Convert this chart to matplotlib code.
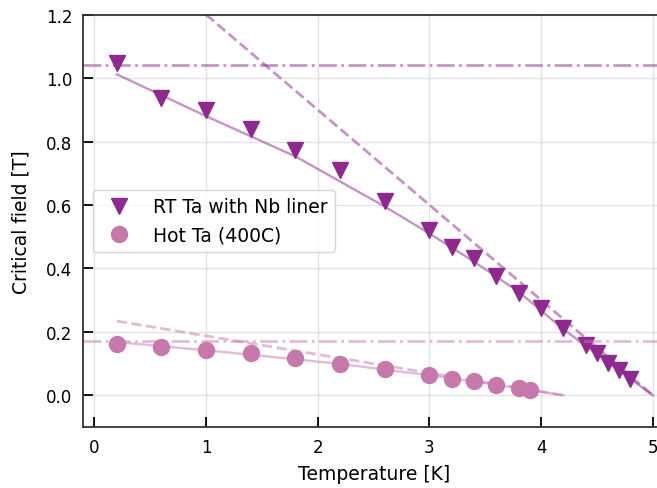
import matplotlib as mpl
mpl.use('Agg')
import matplotlib.pyplot as plt
import numpy as np

# measured critical field, RT Ta with Nb liner
T_rt = [0.2, 0.6, 1.0, 1.4, 1.8, 2.2, 2.6, 3.0, 3.2, 3.4,
        3.6, 3.8, 4.0, 4.2, 4.4, 4.5, 4.6, 4.7, 4.8]
Hc_rt = [1.047, 0.937, 0.900, 0.840, 0.772, 0.710, 0.613, 0.521, 0.466, 0.432,
         0.376, 0.321, 0.274, 0.213, 0.158, 0.132, 0.103, 0.079, 0.051]

# measured critical field, hot Ta (400C)
T_hot = [0.2, 0.6, 1.0, 1.4, 1.8, 2.2, 2.6, 3.0, 3.2, 3.4, 3.6, 3.8, 3.9]
Hc_hot = [0.161, 0.152, 0.144, 0.132, 0.117, 0.100, 0.084, 0.064, 0.052, 0.044,
          0.034, 0.024, 0.018]

# fitted curves
T_fit_rt = [0.2, 1.0, 1.8, 2.6, 3.0, 3.4, 3.8, 4.2, 5.0]
Hc_fit_rt = [1.012, 0.880, 0.753, 0.595, 0.510, 0.421, 0.326, 0.208, 0.0]
T_fit_hot = [0.2, 1.2, 2.2, 3.0, 3.6, 4.2]
Hc_fit_hot = [0.168, 0.135, 0.099, 0.063, 0.033, 0.0]

# linear slopes near Tc
T_lin_rt = [1.0, 5.0]
Hc_lin_rt = [1.2, 0.0]
T_lin_hot = [0.2, 4.2]
Hc_lin_hot = [0.234, 0.0]

# zero temperature levels
Hc0_rt = 1.04
Hc0_hot = 0.172

c_rt = '#8e2a8e'
c_hot = '#c779ac'

fig = plt.figure(figsize=(6.57, 4.89), dpi=100)
ax = fig.add_axes([83.3 / 657, 1 - 428 / 489, (664 - 83.3) / 657, (428 - 15.7) / 489])

ax.plot(T_rt, Hc_rt, 'v', color=c_rt, ms=11.5, label='RT Ta with Nb liner')
ax.plot(T_hot, Hc_hot, 'o', color=c_hot, ms=11.5, label='Hot Ta (400C)')

ax.plot(T_fit_rt, Hc_fit_rt, '-', color=c_rt, alpha=0.5, lw=1.7)
ax.plot(T_lin_rt, Hc_lin_rt, '--', color=c_rt, alpha=0.5, lw=2)
ax.axhline(Hc0_rt, ls='-.', color=c_rt, alpha=0.5, lw=2)

ax.plot(T_fit_hot, Hc_fit_hot, '-', color=c_hot, alpha=0.5, lw=1.7)
ax.plot(T_lin_hot, Hc_lin_hot, '--', color=c_hot, alpha=0.5, lw=2)
ax.axhline(Hc0_hot, ls='-.', color=c_hot, alpha=0.5, lw=2)

ax.set_xlim(-0.1, 5.1)
ax.set_ylim(-0.1, 1.2)
ax.set_xticks(np.arange(0, 6, 1))
ax.set_yticks(np.arange(0, 1.21, 0.2))
ax.grid(True, color='#bbbbbb', alpha=0.4, lw=1)
ax.set_axisbelow(True)
ax.tick_params(direction='in', length=7, width=1.3, labelsize=12, pad=8)
for s in ax.spines.values():
    s.set_color('#333333')
    s.set_linewidth(1.3)

ax.set_xlabel('Temperature [K]', fontsize=13.5, labelpad=6)
ax.set_ylabel('Critical field [T]', fontsize=13.5, labelpad=11)
ax.legend(loc='center left', bbox_to_anchor=(0.0, 0.5), fontsize=13.5)

plt.savefig('out.png', dpi=100)
plt.close()
